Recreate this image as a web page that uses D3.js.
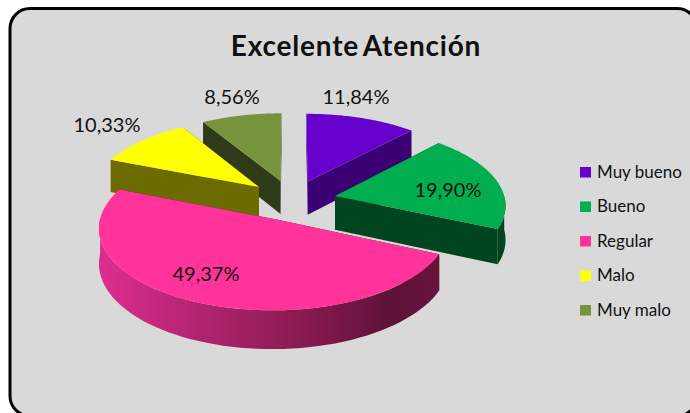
<!DOCTYPE html>
<html>
<head>
<meta charset="utf-8">
<script src="https://cdn.jsdelivr.net/npm/d3@7"></script>
<style>
  html, body { margin: 0; padding: 0; background: #fff; }
  svg { display: block; }
  text { font-family: Lato, "Open Sans", sans-serif; fill: #111; }
</style>
</head>
<body>
<div id="chart"></div>
<script>
// Share of answers per rating
const categories = ["Muy bueno", "Bueno", "Regular", "Malo", "Muy malo"];
const values = [11.84, 19.90, 49.37, 10.33, 8.56];
const topColors = ["#6600CC", "#00AD4F", "#FF3399", "#FFFF00", "#77933C"];
const wallColors = ["#3A0074", "#00451F", "#5E1238", "#6B6B00", "#2F3A18"];
const chartTitle = "Excelente Atención";

// Label centres in page pixels, same order as the categories
const labelX = [356, 448, 206, 107, 232];
const labelY = [97, 190, 274, 125, 97];

const width = 690, height = 413;
const cx = 292, cy = 200;      // centre of the tilted disc
const radiusX = 170, radiusY = 78;
const perspective = 0.1;       // growth of the disc towards the viewer
const thickness = 34;
const explode = 0.26;          // slice offset, as a fraction of the radius
const paintOrder = [4, 0, 3, 1, 2];

const svg = d3.select("#chart").append("svg")
  .attr("width", width).attr("height", height);

// Panel with rounded corners that runs off the right and bottom of the page
svg.append("rect")
  .attr("x", 10).attr("y", 8.5)
  .attr("width", 687).attr("height", 407.5)
  .attr("rx", 20).attr("ry", 20)
  .attr("fill", "#D9D9D9")
  .attr("stroke", "#000").attr("stroke-width", 3);

svg.append("text")
  .attr("x", 356).attr("y", 56)
  .attr("text-anchor", "middle")
  .attr("font-size", 28).attr("font-weight", 700)
  .attr("letter-spacing", 0.8)
  .attr("word-spacing", -3)
  .text(chartTitle);

const arcs = d3.pie().sort(null).value(d => d)(values);

// Maps plane coordinates plus a height below the top face to page pixels
function project(px, py, drop) {
  const s = 1 / (1 - perspective * py);
  return [cx + radiusX * px * s, cy + radiusY * py * s + (drop ? thickness * s : 0)];
}
function planePoint(arc, r, angle) {
  const mid = (arc.startAngle + arc.endAngle) / 2;
  return [
    r * Math.sin(angle) + explode * Math.sin(mid),
    -r * Math.cos(angle) - explode * Math.cos(mid)
  ];
}
const line = d3.line();
const samples = (a, b) => d3.range(0, 61).map(i => a + (b - a) * i / 60);

const defs = svg.append("defs");
const shade = defs.append("linearGradient")
  .attr("id", "regular-wall")
  .attr("gradientUnits", "userSpaceOnUse")
  .attr("x1", 100).attr("x2", 440).attr("y1", 0).attr("y2", 0);
shade.append("stop").attr("offset", 0).attr("stop-color", "#DE2E8E");
shade.append("stop").attr("offset", 0.3).attr("stop-color", "#B0246F");
shade.append("stop").attr("offset", 0.62).attr("stop-color", "#85194F");
shade.append("stop").attr("offset", 0.85).attr("stop-color", "#5E1238");
shade.append("stop").attr("offset", 1).attr("stop-color", "#67143D");

paintOrder.forEach(i => {
  const arc = arcs[i];
  const g = svg.append("g");
  const wall = i === 2 ? "url(#regular-wall)" : wallColors[i];

  // Straight cut faces
  [arc.startAngle, arc.endAngle].forEach(angle => {
    const a = planePoint(arc, 0, angle), b = planePoint(arc, 1, angle);
    g.append("path")
      .attr("d", line([project(...a, false), project(...b, false),
                       project(...b, true), project(...a, true)]) + "Z")
      .attr("fill", i === 2 ? wallColors[2] : wall);
  });

  // Rim, only on the half of the disc turned towards the viewer
  const from = Math.max(arc.startAngle, Math.PI / 2);
  const to = Math.min(arc.endAngle, Math.PI * 3 / 2);
  if (to > from) {
    const edge = samples(from, to).map(t => planePoint(arc, 1, t));
    const upper = edge.map(p => project(...p, false));
    const lower = edge.map(p => project(...p, true)).reverse();
    g.append("path").attr("d", line(upper.concat(lower)) + "Z").attr("fill", wall);
  }

  // Top face
  const rim = samples(arc.startAngle, arc.endAngle).map(t => project(...planePoint(arc, 1, t), false));
  const apex = project(...planePoint(arc, 0, 0), false);
  g.append("path").attr("d", line([apex].concat(rim)) + "Z").attr("fill", topColors[i]);
});

// Value labels
const pct = d3.format(".2f");
svg.append("g").selectAll("text").data(values).join("text")
  .attr("x", (d, i) => labelX[i])
  .attr("y", (d, i) => labelY[i])
  .attr("dy", "0.35em")
  .attr("text-anchor", "middle")
  .attr("font-size", 20)
  .text(d => pct(d).replace(".", ",") + "%");

// Legend
const legendY = d3.scalePoint().domain(categories).range([172, 310]);
const legend = svg.append("g").selectAll("g").data(categories).join("g")
  .attr("transform", d => `translate(580,${legendY(d)})`);
legend.append("rect")
  .attr("y", -5).attr("width", 11).attr("height", 10.5)
  .attr("fill", (d, i) => topColors[i]);
legend.append("text")
  .attr("x", 17).attr("dy", "0.35em")
  .attr("font-size", 17)
  .text(d => d);
</script>
</body>
</html>
